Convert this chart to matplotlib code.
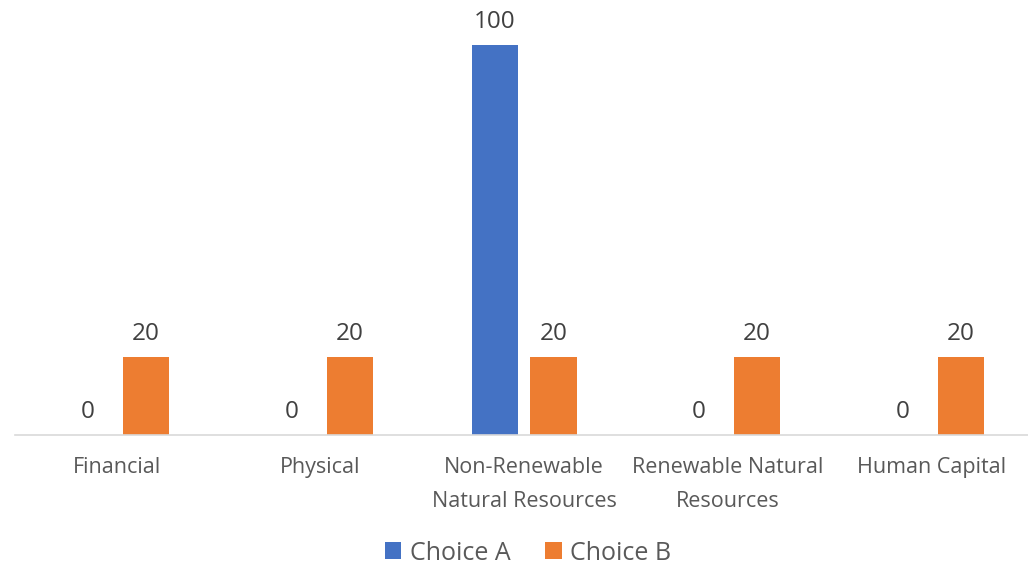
import matplotlib
matplotlib.use("Agg")
import matplotlib.pyplot as plt
import numpy as np

categories = ["Financial", "Physical", "Non-Renewable\nNatural Resources", "Renewable Natural\nResources", "Human Capital"]
choice_a = [0, 0, 100, 0, 0]
choice_b = [20, 20, 20, 20, 20]
series_names = ["Choice A", "Choice B"]

blue = "#4472C4"
orange = "#ED7D31"
txt = "#595959"

plt.rcParams['font.family'] = ['Open Sans', 'DejaVu Sans']

fig = plt.figure(figsize=(10.28, 5.66), dpi=100)
ax = fig.add_axes([15.1/1028, 131/566, 1018.3/1028, 435/566])

x = np.arange(len(categories))
w = 0.228
off = 0.1436
ba = ax.bar(x - off, choice_a, w, color=blue, label=series_names[0])
bb = ax.bar(x + off, choice_b, w, color=orange, label=series_names[1])

for bars in (ba, bb):
    for r in bars:
        ax.annotate(f"{int(r.get_height())}", (r.get_x() + r.get_width()/2, r.get_height()),
                    xytext=(0, 16.5), textcoords="offset points", ha="center", va="center",
                    fontsize=17.5, color="#404040")

ax.set_xlim(-0.5, len(categories) - 0.5)
ax.set_ylim(0, 111.5)
ax.set_yticks([])
ax.set_xticks(x)
ax.set_xticklabels(categories, fontsize=15.5, color=txt, linespacing=1.78)
ax.tick_params(axis='x', length=0, pad=16)
for s in ["top", "right", "left"]:
    ax.spines[s].set_visible(False)
ax.spines["bottom"].set_color("#D9D9D9")
ax.spines["bottom"].set_linewidth(1.2)

fig.legend(loc="center", bbox_to_anchor=(528/1028, 1 - 553/566), ncol=2, frameon=False,
           fontsize=18, labelcolor=txt, handlelength=0.65, handleheight=0.65,
           handletextpad=0.35, columnspacing=1.4)

fig.savefig("out.png", dpi=100)
